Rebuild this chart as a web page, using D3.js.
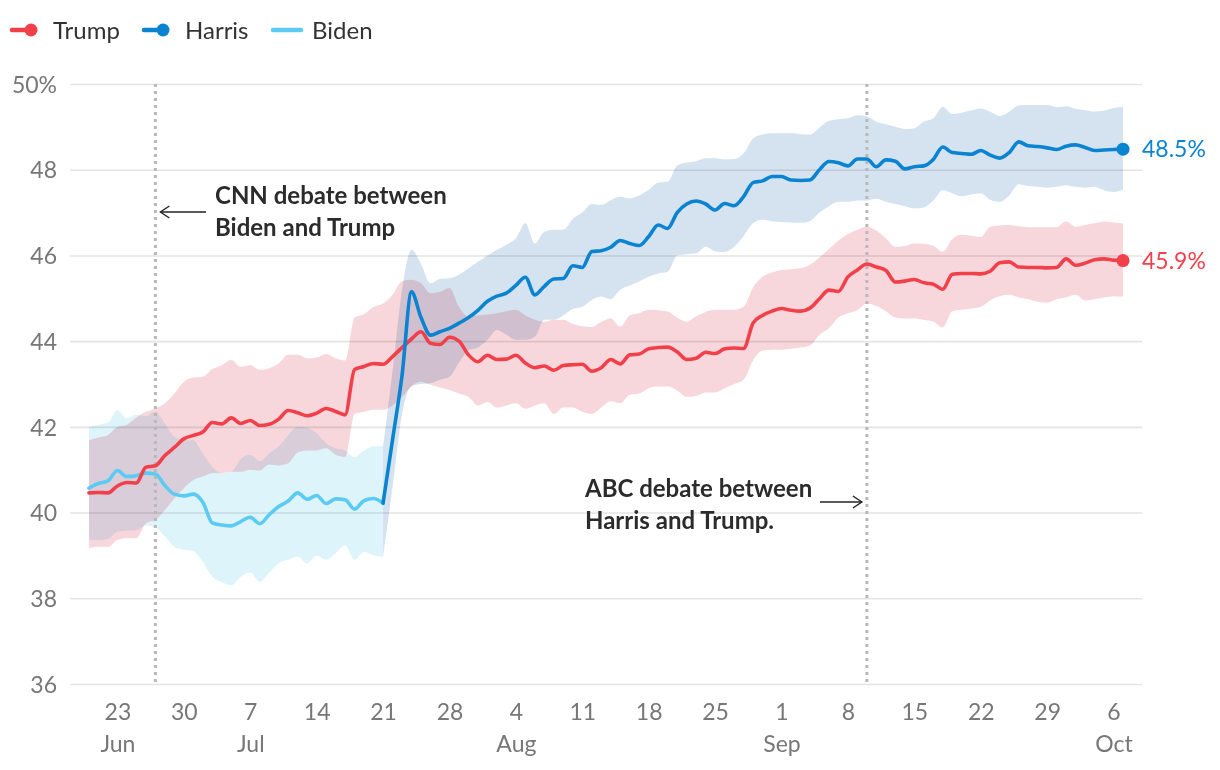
<!DOCTYPE html>
<html><head><meta charset="utf-8">
<script src="https://cdn.jsdelivr.net/npm/d3@7"></script>
<style>
body{margin:0;background:#fff;}
svg{display:block;font-family:Lato,"Open Sans",sans-serif;}
</style></head><body>
<svg id="chart" width="1220" height="770"></svg>
<script>
// ---------- data ----------
const startDate = new Date(2024, 5, 20);   // Jun 20
const endDate = new Date(2024, 9, 8);      // exclusive -> last day Oct 7
const harrisStartIndex = 31;               // Jul 21

const trump = [40.46,40.47,40.46,40.62,40.70,40.69,41.06,41.09,41.33,41.52,
41.72,41.80,41.88,42.10,42.07,42.21,42.08,42.15,42.03,42.06,
42.18,42.38,42.33,42.26,42.32,42.43,42.36,42.28,43.34,43.41,
43.48,43.46,43.64,43.85,44.05,44.22,43.95,43.92,44.09,44.00,
43.68,43.52,43.67,43.57,43.58,43.67,43.49,43.38,43.42,43.32,
43.43,43.45,43.46,43.30,43.38,43.57,43.47,43.68,43.70,43.82,
43.85,43.86,43.75,43.57,43.60,43.74,43.71,43.82,43.84,43.83,
44.42,44.60,44.70,44.76,44.72,44.70,44.77,44.99,45.19,45.16,
45.50,45.66,45.80,45.73,45.65,45.38,45.40,45.44,45.36,45.33,
45.21,45.56,45.58,45.58,45.57,45.63,45.83,45.85,45.73,45.72,
45.72,45.71,45.72,45.92,45.77,45.82,45.90,45.92,45.89,45.88];

const trumpHi = [41.69,41.75,41.81,42.00,42.05,42.22,42.35,42.43,42.55,42.78,
43.05,43.15,43.17,43.35,43.44,43.56,43.40,43.44,43.33,43.37,
43.48,43.68,43.68,43.60,43.62,43.70,43.60,43.55,44.55,44.63,
44.80,44.88,45.08,45.40,45.43,45.35,45.12,45.15,45.24,44.80,
44.57,44.60,44.62,44.65,44.70,44.73,44.60,44.50,44.45,44.50,
44.50,44.40,44.35,44.33,44.45,44.53,44.34,44.60,44.65,44.73,
44.72,44.69,44.55,44.45,44.58,44.68,44.73,44.73,44.73,44.80,
45.25,45.50,45.60,45.66,45.68,45.70,45.78,45.95,46.15,46.35,
46.50,46.60,46.67,46.58,46.40,46.20,46.22,46.28,46.27,46.22,
46.09,46.38,46.48,46.46,46.43,46.67,46.70,46.71,46.68,46.66,
46.66,46.66,46.66,46.79,46.67,46.71,46.75,46.79,46.77,46.75];

const trumpLo = [39.17,39.20,39.20,39.36,39.40,39.40,39.75,39.83,40.06,40.33,
40.57,40.76,40.84,40.92,40.92,40.95,40.95,41.00,40.98,41.12,
41.10,41.15,41.40,41.45,41.45,41.50,41.35,41.30,42.30,42.35,
42.40,42.40,42.50,42.70,42.95,43.05,42.98,42.92,42.86,42.78,
42.70,42.50,42.58,42.45,42.50,42.55,42.42,42.50,42.55,42.30,
42.45,42.45,42.35,42.30,42.45,42.60,42.55,42.75,42.78,42.90,
42.94,42.94,42.85,42.70,42.72,42.80,42.80,42.90,43.00,43.10,
43.55,43.78,43.80,43.80,43.82,43.85,43.90,44.15,44.30,44.55,
44.65,44.72,44.88,44.82,44.70,44.55,44.53,44.53,44.50,44.45,
44.32,44.70,44.73,44.76,44.80,44.95,45.05,45.08,45.02,44.98,
44.92,44.90,44.98,45.02,45.08,44.95,44.98,45.02,45.05,45.04];

const harris = [40.22,41.70,43.20,45.15,44.55,44.14,44.22,44.30,44.42,44.55,
44.72,44.93,45.05,45.12,45.30,45.49,45.08,45.28,45.45,45.46,
45.76,45.72,46.09,46.11,46.19,46.35,46.28,46.23,46.44,46.71,
46.63,47.00,47.20,47.27,47.20,47.06,47.21,47.16,47.37,47.70,
47.74,47.84,47.84,47.76,47.75,47.76,48.00,48.19,48.16,48.09,
48.25,48.25,48.07,48.23,48.20,48.02,48.07,48.09,48.24,48.53,
48.40,48.38,48.36,48.45,48.34,48.27,48.40,48.65,48.56,48.54,
48.51,48.47,48.55,48.58,48.52,48.45,48.46,48.47,48.48];

const harrisHi = [41.55,43.30,45.20,46.13,45.80,45.35,45.45,45.47,45.55,45.70,
45.85,46.00,46.13,46.25,46.40,46.75,46.28,46.55,46.60,46.60,
46.85,47.00,47.20,47.18,47.29,47.37,47.33,47.40,47.53,47.70,
47.72,48.10,48.17,48.20,48.27,48.27,48.24,48.25,48.38,48.73,
48.82,48.85,48.85,48.85,48.83,48.82,48.98,49.14,49.18,49.20,
49.27,49.25,49.12,49.06,49.00,48.95,48.97,49.12,49.20,49.47,
49.30,49.33,49.38,49.43,49.35,49.25,49.35,49.50,49.51,49.51,
49.51,49.46,49.48,49.42,49.39,49.36,49.38,49.44,49.47];

const harrisLo = [38.97,40.60,42.30,42.95,43.00,43.02,43.10,43.17,43.50,43.79,
43.85,44.03,44.26,44.15,44.03,44.03,44.10,44.50,44.50,44.60,
44.75,44.80,44.96,45.04,44.98,45.20,45.30,45.39,45.50,45.58,
45.62,46.00,46.03,46.05,46.20,46.10,46.08,46.20,46.45,46.75,
46.83,46.80,46.78,46.77,46.76,46.80,47.00,47.15,47.25,47.25,
47.28,47.28,47.32,47.25,47.20,47.15,47.10,47.12,47.28,47.52,
47.45,47.38,47.42,47.45,47.30,47.25,47.40,47.66,47.62,47.60,
47.58,47.60,47.64,47.60,47.58,47.60,47.52,47.48,47.53];

const biden = [40.57,40.68,40.74,40.98,40.84,40.86,40.92,40.90,40.63,40.43,
40.39,40.43,40.24,39.76,39.71,39.69,39.79,39.89,39.74,39.95,
40.14,40.27,40.46,40.31,40.40,40.21,40.32,40.30,40.08,40.28,
40.33,40.22];

const bidenHi = [42.00,42.05,42.10,42.39,42.20,42.28,42.25,42.35,42.08,41.77,
41.69,41.69,41.38,41.07,40.92,40.95,41.25,41.35,41.20,41.38,
41.55,41.80,42.00,41.98,41.85,41.62,41.50,41.45,41.30,41.45,
41.55,41.55];

const bidenLo = [39.36,39.36,39.38,39.55,39.58,39.59,39.70,39.65,39.44,39.20,
39.13,39.10,38.85,38.50,38.38,38.30,38.50,38.60,38.38,38.60,
38.82,38.90,38.97,38.82,38.99,38.90,39.05,39.24,38.90,39.08,
39.00,38.97];

const yTicks = [36, 38, 40, 42, 44, 46, 48, 50];
const yTickLabels = ["36", "38", "40", "42", "44", "46", "48", "50%"];
const xTickLabels = ["23","30","7","14","21","28","4","11","18","25","1","8","15","22","29","6"];
const xMonthLabels = ["Jun","","Jul","","","","Aug","","","","Sep","","","","","Oct"];
const firstTick = new Date(2024, 5, 23);
const events = [
  {date: new Date(2024, 5, 27), lines: ["CNN debate between", "Biden and Trump"]},
  {date: new Date(2024, 8, 10), lines: ["ABC debate between", "Harris and Trump."]}
];
const seriesNames = ["Trump", "Harris", "Biden"];

// ---------- styles ----------
const colors = {Trump: "#f2404b", Harris: "#0a84d0", Biden: "#5ccbf3"};
const bandColors = {Trump: "#f8d7dc", Harris: "#d5e3f0", Biden: "#def4fb"};

// ---------- build ----------
const days = d3.timeDay.range(startDate, endDate);
const mk = (vals, hi, lo, offset) => vals.map((v, i) => ({date: days[i + offset], v, hi: hi[i], lo: lo[i]}));
const dTrump = mk(trump, trumpHi, trumpLo, 0);
const dHarris = mk(harris, harrisHi, harrisLo, harrisStartIndex);
const dBiden = mk(biden, bidenHi, bidenLo, 0);

const svg = d3.select("#chart");
const pL = 70, pR = 1142, pT = 84, pB = 684;
const x = d3.scaleTime().domain([new Date(2024, 5, 18), new Date(2024, 9, 9)]).range([pL, pR]);
const y = d3.scaleLinear().domain([36, 50]).range([pB, pT]);

// y grid + labels
const gY = svg.append("g").attr("transform", `translate(${pL},0)`)
  .call(d3.axisLeft(y).tickValues(yTicks).tickSize(-(pR - pL)).tickFormat((d, i) => yTickLabels[i]));
gY.select(".domain").remove();
gY.selectAll(".tick line").attr("stroke", "#e4e4e4").attr("stroke-width", 1.6);
gY.selectAll(".tick text").attr("x", -13).attr("dy", "0.36em")
  .attr("fill", "#777").style("font-size", "23px").style("font-family", "Lato, sans-serif");

// x axis
const xTickDates = xTickLabels.map((_, i) => d3.timeDay.offset(firstTick, 7 * i));
const gX = svg.append("g").attr("transform", `translate(0,${pB})`)
  .call(d3.axisBottom(x).tickValues(xTickDates).tickSize(0).tickFormat((d, i) => xTickLabels[i]));
gX.select(".domain").remove();
gX.selectAll(".tick text").attr("y", 36).attr("dy", 0)
  .attr("fill", "#777").style("font-size", "23px").style("font-family", "Lato, sans-serif");
gX.selectAll(".tick").append("text")
  .attr("y", 68).attr("text-anchor", "middle").attr("fill", "#777")
  .style("font-size", "23px").style("font-family", "Lato, sans-serif")
  .text((d, i) => xMonthLabels[i]);

// bands
const area = d3.area().x(d => x(d.date)).y0(d => y(d.lo)).y1(d => y(d.hi)).curve(d3.curveMonotoneX);
const gB = svg.append("g");
[["Biden", dBiden], ["Trump", dTrump], ["Harris", dHarris]].forEach(([n, d]) => {
  gB.append("path").attr("d", area(d)).attr("fill", bandColors[n]).style("mix-blend-mode", "multiply");
});

// event lines
svg.append("g").selectAll("line").data(events).join("line")
  .attr("x1", d => x(d.date)).attr("x2", d => x(d.date))
  .attr("y1", y(50)).attr("y2", y(36))
  .attr("stroke", "#b8b8b8").attr("stroke-width", 3).attr("stroke-dasharray", "3,4");

// lines
const line = d3.line().x(d => x(d.date)).y(d => y(d.v)).curve(d3.curveMonotoneX);
const gL = svg.append("g").attr("fill", "none").attr("stroke-width", 3.6)
  .attr("stroke-linejoin", "round").attr("stroke-linecap", "round");
gL.append("path").attr("d", line(dBiden)).attr("stroke", colors.Biden);
gL.append("path").attr("d", line(dTrump)).attr("stroke", colors.Trump);
gL.append("path").attr("d", line(dHarris)).attr("stroke", colors.Harris);

// end dots + labels
[["Harris", dHarris], ["Trump", dTrump]].forEach(([n, d]) => {
  const last = d[d.length - 1];
  svg.append("circle").attr("cx", x(last.date)).attr("cy", y(last.v)).attr("r", 6.5).attr("fill", colors[n]);
  svg.append("text").attr("x", x(last.date) + 19).attr("y", y(last.v)).attr("dy", "0.36em")
    .attr("fill", colors[n]).style("font-size", "23px").text(d3.format(".1f")(last.v) + "%");
});

// annotations
function arrow(x1, x2, yy) {
  const g = svg.append("g").attr("stroke", "#222").attr("stroke-width", 1.4).attr("fill", "none");
  g.append("line").attr("x1", x1).attr("x2", x2).attr("y1", yy).attr("y2", yy);
  const s = x2 > x1 ? -1 : 1;
  g.append("path").attr("d", `M${x2 + s * 9},${yy - 6}L${x2},${yy}L${x2 + s * 9},${yy + 6}`);
}
const ann1 = svg.append("text").attr("fill", "#2b2b2b")
  .style("font-size", "24px").style("font-weight", "700");
events[0].lines.forEach((t, i) => ann1.append("tspan").attr("x", 215).attr("y", 204 + i * 32).text(t));
arrow(206, x(events[0].date) + 5, 212);

const ann2 = svg.append("text").attr("fill", "#2b2b2b")
  .style("font-size", "24px").style("font-weight", "700");
events[1].lines.forEach((t, i) => ann2.append("tspan").attr("x", 585).attr("y", 497 + i * 32).text(t));
arrow(820, x(events[1].date) - 5, 502);

// legend
const legend = svg.append("g");
const legX = [10, 142, 271];
seriesNames.forEach((n, i) => {
  const g = legend.append("g").attr("transform", `translate(${legX[i]},30)`);
  g.append("line").attr("x1", 2).attr("x2", n === "Biden" ? 30 : 24).attr("y1", 0).attr("y2", 0)
    .attr("stroke", colors[n]).attr("stroke-width", 4.5).attr("stroke-linecap", "round");
  if (n !== "Biden") g.append("circle").attr("cx", 21).attr("cy", 0).attr("r", 6.5).attr("fill", colors[n]);
  g.append("text").attr("x", n === "Biden" ? 41 : 43).attr("y", 0).attr("dy", "0.36em")
    .attr("fill", "#333").style("font-size", "24px").text(n);
});
</script>
</body></html>
